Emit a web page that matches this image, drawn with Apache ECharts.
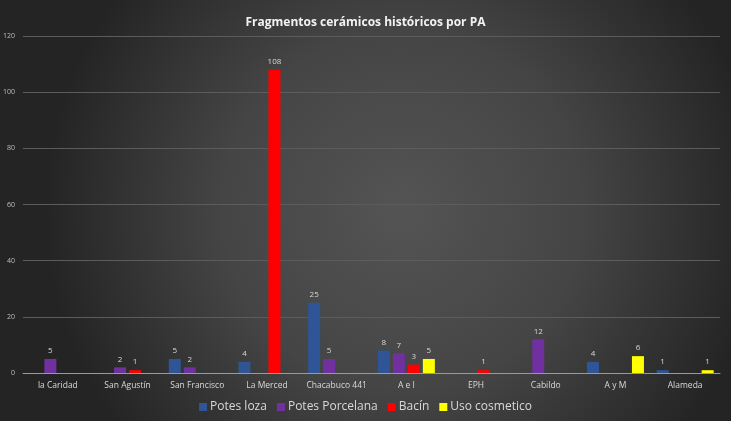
<!DOCTYPE html>
<html>
<head>
<meta charset="utf-8">
<script src="https://cdn.jsdelivr.net/npm/echarts@6/dist/echarts.min.js"></script>
<style>html,body{margin:0;padding:0;}#chart{width:731px;height:421px;}</style>
</head>
<body>
<div id="chart"></div>
<script>
var categories = ['la Caridad', 'San Agustín', 'San Francisco', 'La Merced', 'Chacabuco 441', 'A e I', 'EPH', 'Cabildo', 'A y M', 'Alameda'];
var potesLoza = [null, null, 5, 4, 25, 8, null, null, 4, 1];
var potesPorcelana = [5, 2, 2, null, 5, 7, null, 12, null, null];
var bacin = [null, 1, null, 108, null, 3, 1, null, null, null];
var usoCosmetico = [null, null, null, null, null, 5, null, null, 6, 1];

var myChart = echarts.init(document.getElementById('chart'));

function mkSeries(name, data, color) {
  return {
    name: name,
    type: 'bar',
    data: data,
    barWidth: 12,
    barGap: '25%',
    itemStyle: {color: color},
    label: {show: true, position: 'top', color: '#d9d9d9', fontSize: 8, fontFamily: 'Open Sans', distance: 4}
  };
}

var option = {
  backgroundColor: {
    type: 'radial', x: 0.55, y: 0.5, r: 0.85,
    colorStops: [{offset: 0, color: '#545454'}, {offset: 0.5, color: '#454545'}, {offset: 1, color: '#242424'}]
  },
  title: {
    text: 'Fragmentos cerámicos históricos por PA',
    left: 'center',
    top: 12,
    textStyle: {color: '#f2f2f2', fontSize: 12, fontWeight: 'bold', fontFamily: 'Open Sans'}
  },
  legend: {
    bottom: 3,
    left: 'center',
    itemWidth: 8,
    itemHeight: 8,
    itemGap: 10,
    icon: 'rect',
    textStyle: {color: '#d9d9d9', fontSize: 12, fontFamily: 'Open Sans', padding: [0, 0, 0, -2]},
    data: ['Potes loza', 'Potes Porcelana', 'Bacín', 'Uso cosmetico']
  },
  grid: {left: 22, right: 11, top: 36, bottom: 48},
  xAxis: {
    type: 'category',
    data: categories,
    axisLine: {lineStyle: {color: '#9a9a9a', width: 1}},
    axisTick: {show: false},
    axisLabel: {interval: 0, color: '#d9d9d9', fontSize: 8.5, fontFamily: 'Open Sans', margin: 8}
  },
  yAxis: {
    type: 'value',
    min: 0,
    max: 120,
    interval: 20,
    axisLine: {show: false},
    axisTick: {show: false},
    axisLabel: {color: '#bfbfbf', fontSize: 7, fontFamily: 'Open Sans', margin: 8},
    splitLine: {lineStyle: {color: '#5c5c5c', width: 1}}
  },
  series: [
    mkSeries('Potes loza', potesLoza, '#2f5597'),
    mkSeries('Potes Porcelana', potesPorcelana, '#7030a0'),
    mkSeries('Bacín', bacin, '#ff0000'),
    mkSeries('Uso cosmetico', usoCosmetico, '#ffff00')
  ]
};
myChart.setOption(option);
</script>
</body>
</html>
